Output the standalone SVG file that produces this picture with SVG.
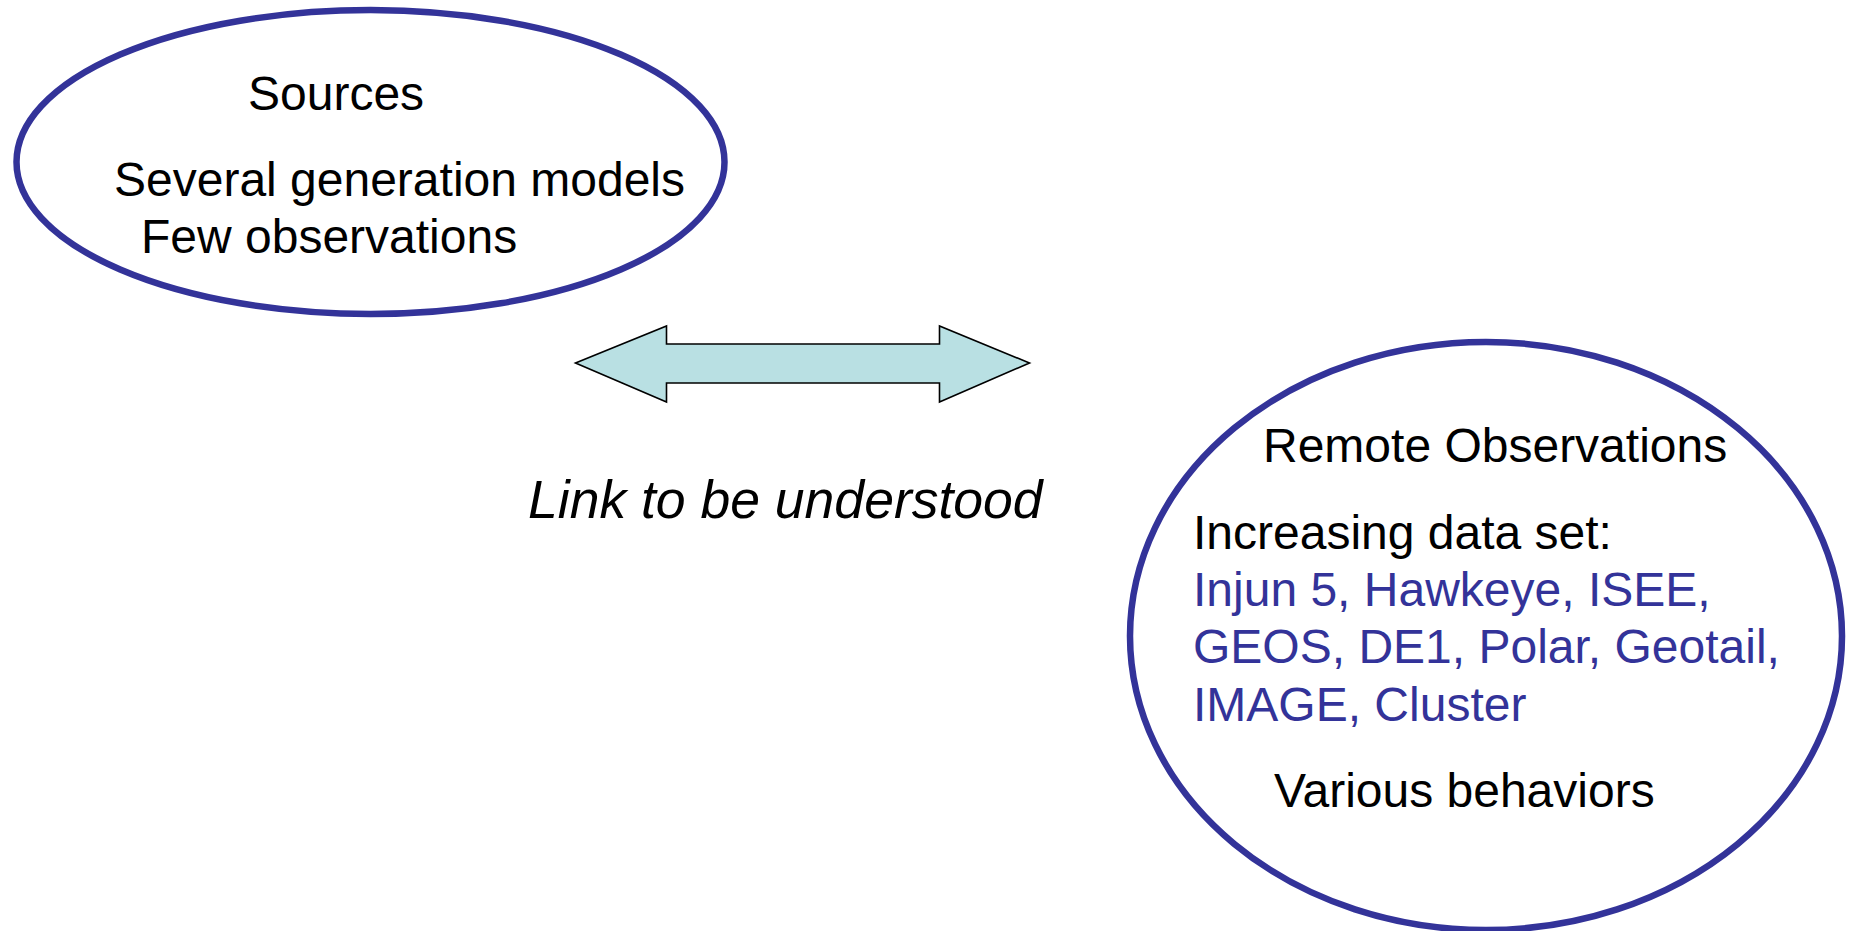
<svg xmlns="http://www.w3.org/2000/svg" width="1853" height="931" viewBox="0 0 1853 931">
<style>
.ell{fill:#ffffff;stroke:#333399;stroke-width:6.5}
.t{font-family:"Liberation Sans",Arial,sans-serif;font-size:48px;fill:#000000}
.b{fill:#333399}
.i{font-style:italic;font-size:53.5px}
.arr{fill:#b9e0e3;stroke:#000000;stroke-width:1.6;stroke-linejoin:miter}
</style>
<rect width="1853" height="931" fill="#ffffff"/>
<g id="sources">
<ellipse class="ell" cx="370.5" cy="162" rx="354" ry="152"/>
<text class="t" x="248" y="110">Sources</text>
<text class="t" x="114" y="196">Several generation models</text>
<text class="t" x="141" y="253">Few observations</text>
</g>
<g id="remote">
<ellipse class="ell" cx="1486" cy="636" rx="356" ry="294"/>
<text class="t" x="1263" y="462">Remote Observations</text>
<text class="t" x="1193" y="549">Increasing data set:</text>
<text class="t b" x="1193" y="606">Injun 5, Hawkeye, ISEE,</text>
<text class="t b" x="1193" y="663">GEOS, DE1, Polar, Geotail,</text>
<text class="t b" x="1193" y="721">IMAGE, Cluster</text>
<text class="t" x="1274" y="807">Various behaviors</text>
</g>
<g id="connectors">
<polygon class="arr" points="575.5,363 666.5,326 666.5,344 939.5,344 939.5,326 1029.5,363 939.5,402 939.5,383 666.5,383 666.5,402"/>
<text class="t i" x="528" y="518">Link to be understood</text>
</g>
</svg>
